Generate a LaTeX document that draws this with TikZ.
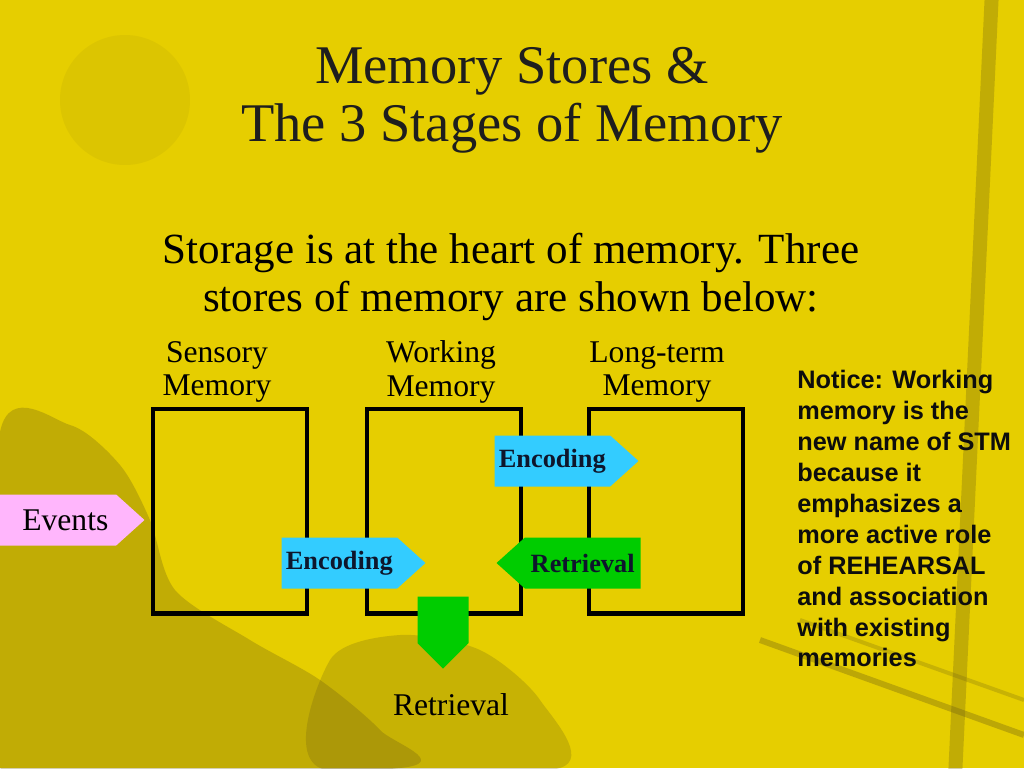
\documentclass[tikz,border=0pt]{standalone}
\usepackage{fontspec}
\setmainfont{Liberation Serif}
\newfontfamily\noticefont{Liberation Sans}
\usetikzlibrary{positioning,shapes.arrows}

\definecolor{slideyellow}{RGB}{230,206,0}
\definecolor{inkolive}{RGB}{110,96,18}
\definecolor{eventpink}{RGB}{255,182,252}
\definecolor{encodecyan}{RGB}{51,204,255}
\definecolor{retrievegreen}{RGB}{0,204,0}
\definecolor{titlegray}{RGB}{30,30,30}
\definecolor{navytext}{RGB}{14,22,44}

\tikzset{
  store/.style={draw=black, line width=2.3pt, minimum width=3.08cm, minimum height=4.1cm, inner sep=0pt},
  storelabel/.style={align=center, font=\fontsize{18}{19}\selectfont},
  flow/.style={single arrow, single arrow head extend=0pt, single arrow tip angle=84,
    minimum width=1.02cm, minimum height=2.88cm, inner sep=0pt, anchor=tip,
    font=\bfseries\fontsize{15}{18}\selectfont, text=navytext},
}

\begin{document}
\begin{tikzpicture}[x=0.02cm, y=-0.02cm]

    \def\boxrow{511}     % vertical centre of the three stores

    \fill[slideyellow] (0,0) rectangle (1024,768);
    \useasboundingbox (0,0) rectangle (1024,768);

    % ink smears in the background
    \fill[inkolive, opacity=0.08] (125,100) circle (65);
    \fill[inkolive, opacity=0.3]
        plot[smooth cycle] coordinates {(0,432) (70,425) (120,465) (150,520) (175,590)
            (250,640) (320,680) (380,730) (400,768) (0,768)};
    \fill[inkolive, opacity=0.25]
        plot[smooth cycle] coordinates {(330,660) (400,635) (480,650) (540,700) (560,768) (320,768)};
    \draw[inkolive, opacity=0.3, line width=0.28cm, line cap=round] (992,-10) -- (955,778);
    \draw[inkolive, opacity=0.35, line width=0.12cm] (760,640) -- (1024,735);
    \draw[inkolive, opacity=0.25, line width=0.08cm] (800,620) -- (1024,700);

    \node[align=center, text=titlegray, font=\fontsize{31}{33}\selectfont] (title) at (512,100)
        {Memory Stores \&\\The 3 Stages of Memory};

    \node[align=center, font=\fontsize{24.5}{27.5}\selectfont] (intro) at (511,277)
        {Storage is at the heart of memory. Three\\stores of memory are shown below:};

    % the three stores
    \node[store] (sensory)  at (230,\boxrow) {};
    \node[store] (working)  at (444,\boxrow) {};
    \node[store] (longterm) at (666,\boxrow) {};

    \node[storelabel] (sensorylbl)  at (217,372) {Sensory\\Memory};
    \node[storelabel] (workinglbl)  at (441,372) {Working\\Memory};
    \node[storelabel] (longtermlbl) at (657,372) {Long-term\\Memory};

    % flows between the stores (placed by their tips)
    \node[flow, fill=eventpink, minimum height=3.1cm, font=\fontsize{18}{20}\selectfont, text=black]
        (events) at (145,520) {\hspace*{0.5cm}Events};
    \node[flow, fill=encodecyan] (encodeone) at (426,563) {Encoding};
    \node[flow, fill=encodecyan] (encodetwo) at (639,461) {Encoding};
    \node[flow, fill=retrievegreen, shape border rotate=180] (retrieveone) at (496,563) {Retrieval};
    \node[flow, fill=retrievegreen, shape border rotate=270, minimum height=1.44cm,
        single arrow tip angle=90] (retrievedown) at (443,669) {};

    \node[font=\fontsize{18}{20}\selectfont] (retrievelbl) at (451,705) {Retrieval};

    \node[anchor=north west, align=left, inner sep=0pt, text=black!95,
        font=\noticefont\bfseries\fontsize{14.4}{17.6}\selectfont] (notice) at (797,370)
        {Notice: Working\\memory is the\\new name of STM\\because it\\emphasizes a\\more active role\\of REHEARSAL\\and association\\with existing\\memories};

\end{tikzpicture}
\end{document}
